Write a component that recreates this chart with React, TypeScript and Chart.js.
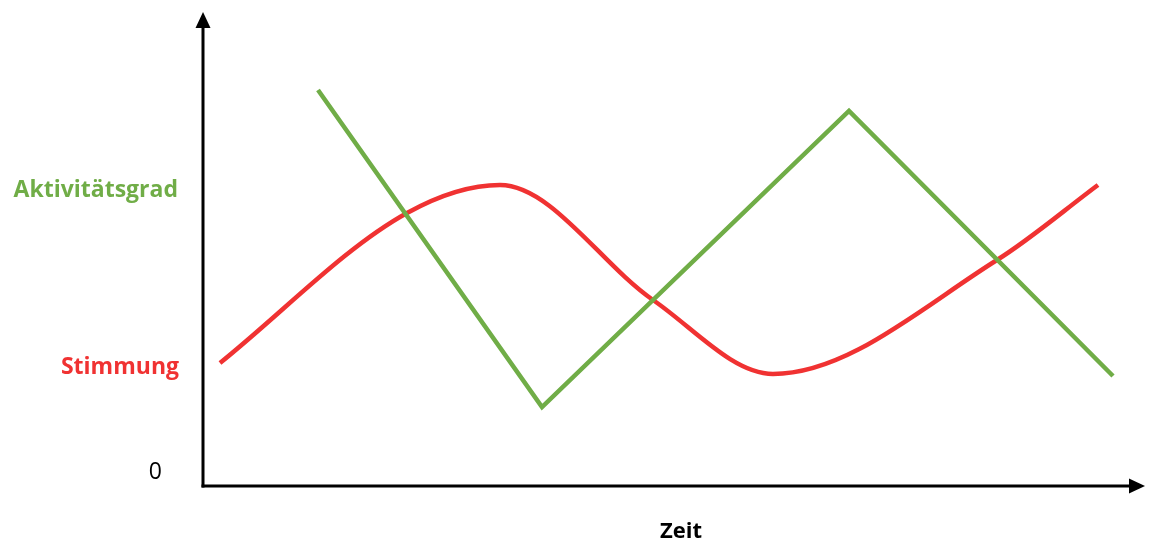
import React, { useEffect, useRef } from "react";
import { Chart, registerables } from "chart.js";

Chart.register(...registerables);

// Time axis (arbitrary units) and levels (arbitrary units)
const greenTime = [115, 339, 646, 910];
const greenLevel = [396, 79, 375, 110];

const redTime = [17, 204, 297, 450, 570, 794, 895];
const redLevel = [123, 273, 301, 186, 112, 226, 301];

const seriesNames = ["Aktivitätsgrad", "Stimmung"];
const seriesColors = ["#70AD47", "#F03232"];
const zeroLabel = "0";
const xAxisTitle = "Zeit";

const X_MAX = 942;
const Y_MAX = 474;

const axesPlugin = {
  id: "axesArrows",
  afterDraw(chart: any) {
    const ctx = chart.ctx as CanvasRenderingContext2D;
    const { left, right, top, bottom } = chart.chartArea;
    ctx.save();
    ctx.strokeStyle = "#000";
    ctx.fillStyle = "#000";
    ctx.lineWidth = 3;
    // y axis
    ctx.beginPath();
    ctx.moveTo(left, bottom + 1.5);
    ctx.lineTo(left, top + 14);
    ctx.stroke();
    ctx.beginPath();
    ctx.moveTo(left, top);
    ctx.lineTo(left - 7.5, top + 16);
    ctx.lineTo(left + 7.5, top + 16);
    ctx.closePath();
    ctx.fill();
    // x axis
    ctx.beginPath();
    ctx.moveTo(left - 1.5, bottom);
    ctx.lineTo(right - 14, bottom);
    ctx.stroke();
    ctx.beginPath();
    ctx.moveTo(right, bottom);
    ctx.lineTo(right - 16, bottom - 7.5);
    ctx.lineTo(right - 16, bottom + 7.5);
    ctx.closePath();
    ctx.fill();

    // labels
    ctx.textBaseline = "middle";
    ctx.textAlign = "right";
    ctx.font = "bold 23px 'Open Sans'";
    ctx.fillStyle = seriesColors[0];
    ctx.fillText(seriesNames[0], left - 25, 190);
    ctx.fillStyle = seriesColors[1];
    ctx.fillText(seriesNames[1], left - 24, 367);
    ctx.font = "23px 'Open Sans'";
    ctx.fillStyle = "#000";
    ctx.fillText(zeroLabel, left - 41, 472);
    ctx.textAlign = "center";
    ctx.font = "bold 22px 'Open Sans'";
    ctx.fillText(xAxisTitle, 681, 532);
    ctx.restore();
  },
};

export default function App() {
  const ref = useRef<HTMLCanvasElement | null>(null);
  useEffect(() => {
    document.body.style.margin = "0";
    const canvas = ref.current;
    if (!canvas) return;
    const chart = new Chart(canvas, {
      type: "line",
      data: {
        datasets: [
          {
            label: seriesNames[0],
            data: greenTime.map((t, i) => ({ x: t, y: greenLevel[i] })),
            borderColor: seriesColors[0],
            borderWidth: 4.5,
            pointRadius: 0,
            tension: 0,
            borderCapStyle: "butt",
            clip: false as any,
          },
          {
            label: seriesNames[1],
            data: redTime.map((t, i) => ({ x: t, y: redLevel[i] })),
            borderColor: seriesColors[1],
            borderWidth: 4.5,
            pointRadius: 0,
            cubicInterpolationMode: "monotone",
            clip: false as any,
          },
        ],
      },
      options: {
        animation: false,
        responsive: false,
        maintainAspectRatio: false,
        layout: { padding: { left: 203, right: 13, top: 12, bottom: 58 } },
        plugins: { legend: { display: false }, tooltip: { enabled: false } },
        scales: {
          x: { type: "linear", min: 0, max: X_MAX, display: false },
          y: { type: "linear", min: 0, max: Y_MAX, display: false },
        },
      },
      plugins: [axesPlugin],
    });
    return () => chart.destroy();
  }, []);
  return (
    <div style={{ position: "absolute", left: 0, top: 0, width: 1158, height: 544, background: "#fff" }}>
      <canvas ref={ref} width={1158} height={544} style={{ width: 1158, height: 544 }} />
    </div>
  );
}
